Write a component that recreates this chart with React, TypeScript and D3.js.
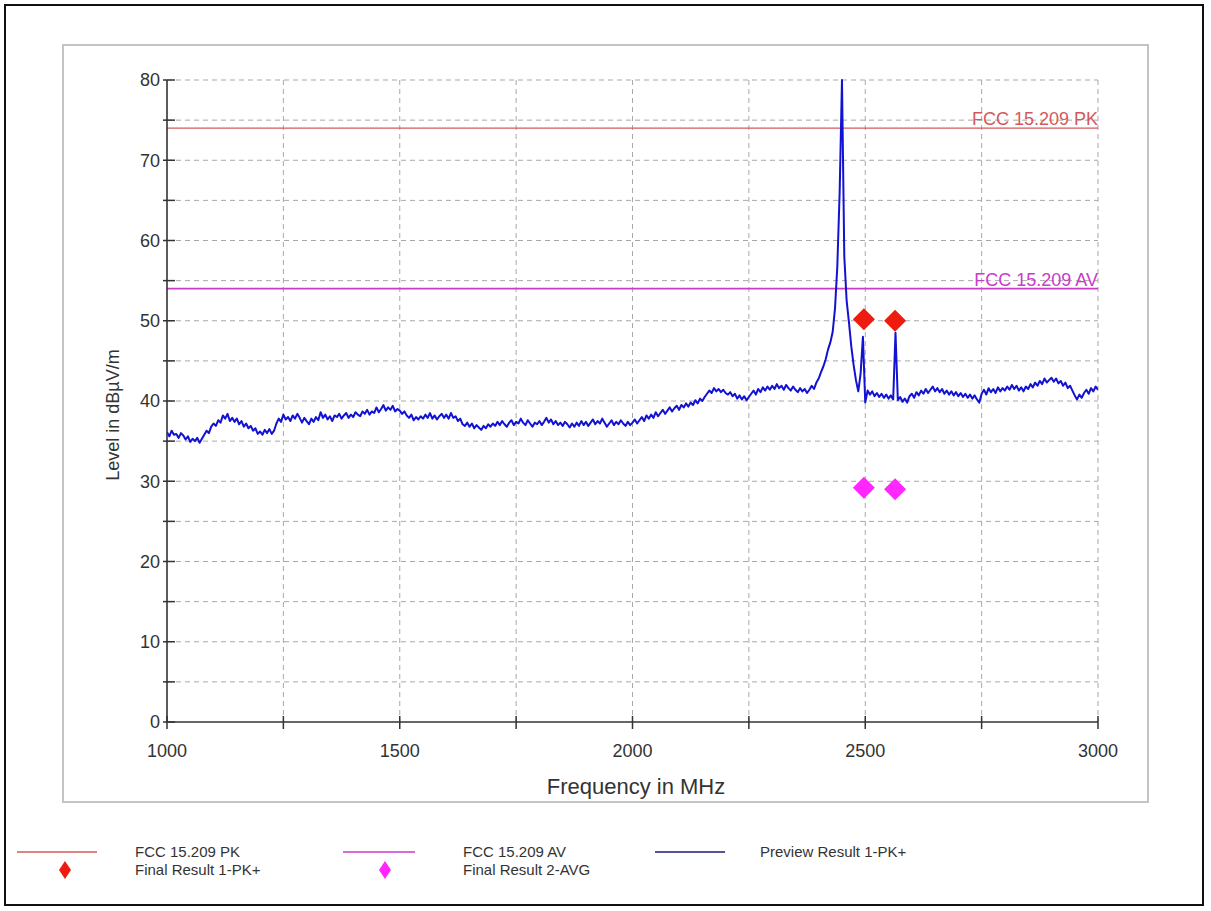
import React from "react";
import { scaleLinear, line } from "d3";

// spectrum trace, 1000..3000 MHz in 5 MHz steps
const traceStartMHz = 1000;
const traceStepMHz = 5;
const traceLevels = [
  36.1, 35.6, 36.3, 35.8, 35.9, 35.4, 36.0, 35.7, 35.2, 35.6, 34.9, 35.3, 35.0, 35.4, 34.8, 35.3, 35.8, 36.3, 36.0, 36.8,
  37.2, 36.9, 37.6, 37.3, 38.2, 37.8, 38.4, 37.5, 37.9, 37.4, 37.8, 37.1, 37.5, 36.8, 37.2, 36.6, 36.9, 36.3, 36.6, 35.9,
  36.2, 35.8, 36.4, 36.0, 36.5, 35.9, 36.3, 37.2, 37.8, 37.4, 38.3, 37.7, 38.0, 37.5, 38.2, 37.8, 38.4, 37.9, 37.3, 37.9,
  37.5, 37.1, 37.8, 37.4, 38.0, 37.6, 38.6, 37.9, 38.3, 37.7, 38.1, 37.5, 38.2, 38.0, 38.4, 37.8, 38.2, 38.5, 37.9, 38.3,
  38.0, 38.6, 38.3, 38.1, 38.7, 38.4, 38.9, 38.3, 38.7, 38.5, 39.2, 38.6, 39.0, 39.5, 38.8, 39.2, 38.9, 39.4, 38.7, 39.0,
  38.8, 38.4, 38.7, 38.2, 37.9, 38.3, 37.6, 38.0, 37.7, 38.1, 37.8, 38.3, 37.9, 38.5, 37.8, 38.2, 37.7, 38.1, 38.4, 37.9,
  38.3, 37.8, 38.5, 37.9, 38.1, 37.5, 37.8, 37.1, 36.9, 37.3, 36.8, 37.2, 36.6, 37.0, 36.7, 36.4, 36.9, 36.6, 37.1, 36.8,
  37.2, 36.9, 37.4, 37.0, 37.5, 37.1, 36.8, 37.3, 37.6, 37.0, 37.4, 37.2, 37.8, 37.3, 37.0, 37.6, 37.2, 36.8, 37.3, 37.1,
  37.5, 37.0, 37.4, 37.9, 37.3, 37.7, 37.1, 37.5, 37.0, 37.3, 36.9, 37.4, 37.1, 36.7, 37.2, 36.8, 37.3, 36.9, 37.5, 37.0,
  37.4, 36.9, 37.3, 37.7, 37.1, 37.5, 37.2, 37.8, 37.3, 36.8, 37.2, 37.6, 37.0, 37.4, 37.1, 37.6, 37.2, 36.9, 37.4, 37.0,
  37.3, 37.7, 37.2, 37.6, 38.0, 37.5, 38.2, 37.8, 38.3, 37.9, 38.6, 38.1, 38.5, 38.9, 38.4, 38.8, 39.2, 38.7, 39.1, 39.4,
  38.9, 39.5, 39.2, 39.7, 39.3, 39.8, 39.5, 40.1, 39.7, 40.3, 40.0, 40.5, 40.9, 41.3, 41.0, 41.6, 41.2, 41.5, 41.1, 41.4,
  41.0, 40.8, 41.1, 40.6, 40.9, 40.3, 40.7, 40.2, 40.6, 40.1, 40.5, 40.9, 41.3, 40.8, 41.5, 41.1, 41.7, 41.3, 41.8, 41.4,
  41.9, 41.5, 42.1, 41.6, 41.9, 41.4, 42.0, 41.6, 41.3, 41.8, 41.4, 41.1, 41.6, 41.2, 41.5, 41.0, 41.4, 41.9, 41.5, 42.3,
  42.8, 43.6, 44.3, 45.2, 46.4, 47.3, 48.6, 51.5, 56.8, 66.0, 80.0, 58.0, 52.5, 49.8, 46.8, 44.5, 42.6, 41.2, 43.4, 48.0,
  39.8, 41.3, 40.8, 41.2, 40.6, 41.0, 40.5, 40.9, 40.4, 40.8, 40.3, 40.7, 40.2, 48.5, 40.1, 40.5, 39.9, 40.3, 39.8, 40.6,
  40.9, 40.4, 41.1, 40.7, 41.3, 40.9, 41.5, 41.0, 41.4, 41.8, 41.2, 41.6, 41.1, 41.5, 40.9, 41.3, 40.8, 41.2, 40.7, 41.1,
  40.6, 41.0, 40.5, 40.9, 40.4, 40.8, 40.3, 40.7, 40.2, 39.8, 40.9, 41.4, 40.8, 41.6, 41.1, 41.5, 41.0, 41.7, 41.2, 41.6,
  41.3, 41.8, 41.4, 42.0, 41.5, 41.9, 41.3, 41.7, 41.2, 41.8, 41.5, 42.1, 41.7, 42.3, 41.9, 42.5, 42.1, 42.8, 42.3, 42.6,
  42.9, 42.4, 42.8, 42.2, 42.5, 41.9, 42.3, 41.6, 41.9, 41.3, 40.7, 40.2, 40.8, 40.4, 41.0, 41.4, 40.9, 41.6, 41.2, 41.8,
  41.4,
];

// final measurements
const finalFreqs = [2497, 2564];
const finalPkLevels = [50.2, 50.0];
const finalAvgLevels = [29.2, 29.0];

// limit lines
const pkLimit = 74;
const avLimit = 54;

const xTickValues = [1000, 1250, 1500, 1750, 2000, 2250, 2500, 2750, 3000];
const xTickLabels = ["1000", "", "1500", "", "2000", "", "2500", "", "3000"];
const yTickValues = [0, 5, 10, 15, 20, 25, 30, 35, 40, 45, 50, 55, 60, 65, 70, 75, 80];

const font = "Arial, 'Liberation Sans', sans-serif";
const traceColor = "#1212d2";
const pkColor = "#d25a5a";
const avColor = "#c83cc8";

const Diamond = ({ cx, cy, rx, ry, fill }) => (
  <path d={`M${cx},${cy - ry}L${cx + rx},${cy}L${cx},${cy + ry}L${cx - rx},${cy}Z`} fill={fill} />
);

const App = () => {
  const width = 1211;
  const height = 911;
  const plot = { left: 167, right: 1098, top: 80, bottom: 722 };

  const xScale = scaleLinear().domain([1000, 3000]).range([plot.left, plot.right]);
  const yScale = scaleLinear().domain([0, 80]).range([plot.bottom, plot.top]);

  const tracePts = traceLevels.map((v, i) => [traceStartMHz + i * traceStepMHz, v]);
  const tracePath = line()
    .x(d => xScale(d[0]))
    .y(d => yScale(d[1]))(tracePts);

  return (
    <svg width={width} height={height} style={{ position: "absolute", left: 0, top: 0, background: "#fff" }}
      fontFamily={font}>
      <defs>
        <clipPath id="plotClip">
          <rect x={plot.left} y={plot.top - 1} width={plot.right - plot.left} height={plot.bottom - plot.top + 1} />
        </clipPath>
      </defs>
      <rect x={0} y={0} width={width} height={height} fill="#fff" />
      {/* outer frame */}
      <rect x={5} y={5} width={1198} height={900} fill="none" stroke="#111" strokeWidth={2} />
      {/* chart panel */}
      <rect x={63} y={45} width={1085} height={757} fill="#fff" stroke="#c4c4c4" strokeWidth={2} />

      {/* grid */}
      {yTickValues.filter(v => v > 0).map(v => (
        <line key={"gy" + v} x1={plot.left} x2={plot.right} y1={yScale(v)} y2={yScale(v)}
          stroke="#a8a8a8" strokeDasharray="5,4" strokeWidth={1} />
      ))}
      {xTickValues.filter(v => v > 1000).map(v => (
        <line key={"gx" + v} x1={xScale(v)} x2={xScale(v)} y1={plot.top} y2={plot.bottom}
          stroke="#a8a8a8" strokeDasharray="5,4" strokeWidth={1} />
      ))}

      {/* limit lines */}
      <line x1={plot.left} x2={plot.right} y1={yScale(pkLimit)} y2={yScale(pkLimit)} stroke={pkColor} strokeWidth={1.3} />
      <line x1={plot.left} x2={plot.right} y1={yScale(avLimit)} y2={yScale(avLimit)} stroke={avColor} strokeWidth={1.6} />
      <text x={plot.right} y={yScale(pkLimit) - 3} textAnchor="end" fontSize={18} fill={pkColor}>FCC 15.209 PK</text>
      <text x={plot.right} y={yScale(avLimit) - 3} textAnchor="end" fontSize={18} fill={avColor}>FCC 15.209 AV</text>

      {/* trace */}
      <path d={tracePath} fill="none" stroke={traceColor} strokeWidth={2} strokeLinejoin="round" clipPath="url(#plotClip)" />

      {/* final results */}
      {finalFreqs.map((f, i) => (
        <Diamond key={"pk" + i} cx={xScale(f)} cy={yScale(finalPkLevels[i])} rx={11} ry={11} fill="#ee1c10" />
      ))}
      {finalFreqs.map((f, i) => (
        <Diamond key={"av" + i} cx={xScale(f)} cy={yScale(finalAvgLevels[i])} rx={11} ry={11} fill="#ff26ff" />
      ))}

      {/* axes */}
      <line x1={plot.left} x2={plot.left} y1={plot.top} y2={plot.bottom} stroke="#333" strokeWidth={1.6} />
      <line x1={plot.left} x2={plot.right} y1={plot.bottom} y2={plot.bottom} stroke="#333" strokeWidth={1.6} />
      {yTickValues.map(v => (
        <g key={"ty" + v} transform={`translate(0, ${yScale(v)})`}>
          <line x1={plot.left - 4} x2={plot.left + 8} stroke="#333" strokeWidth={1.5} />
          {v % 10 === 0 && (
            <text x={plot.left - 7} dy="0.35em" textAnchor="end" fontSize={18} fill="#333">{v}</text>
          )}
        </g>
      ))}
      {xTickValues.map((v, i) => (
        <g key={"tx" + v} transform={`translate(${xScale(v)}, 0)`}>
          <line y1={plot.bottom - 6} y2={plot.bottom + 7} stroke="#333" strokeWidth={1.5} />
          <text y={757} textAnchor="middle" fontSize={18} fill="#333">{xTickLabels[i]}</text>
        </g>
      ))}

      <text x={636} y={794} textAnchor="middle" fontSize={22} fill="#333">Frequency in MHz</text>
      <text transform="translate(119, 415) rotate(-90)" textAnchor="middle" fontSize={18} fill="#333">Level in dBµV/m</text>

      {/* legend */}
      <g fontSize={15} fill="#333">
        <line x1={17} x2={97} y1={852} y2={852} stroke={pkColor} strokeWidth={1.3} />
        <text x={135} y={857}>FCC 15.209 PK</text>
        <Diamond cx={65} cy={870} rx={6} ry={9} fill="#ee1c10" />
        <text x={135} y={875}>Final Result 1-PK+</text>

        <line x1={343} x2={415} y1={852} y2={852} stroke={avColor} strokeWidth={1.6} />
        <text x={463} y={857}>FCC 15.209 AV</text>
        <Diamond cx={385} cy={870} rx={6} ry={9} fill="#ff26ff" />
        <text x={463} y={875}>Final Result 2-AVG</text>

        <line x1={655} x2={725} y1={852} y2={852} stroke="#1c1c6a" strokeWidth={1.6} />
        <text x={760} y={857}>Preview Result 1-PK+</text>
      </g>
    </svg>
  );
};

export default App;
